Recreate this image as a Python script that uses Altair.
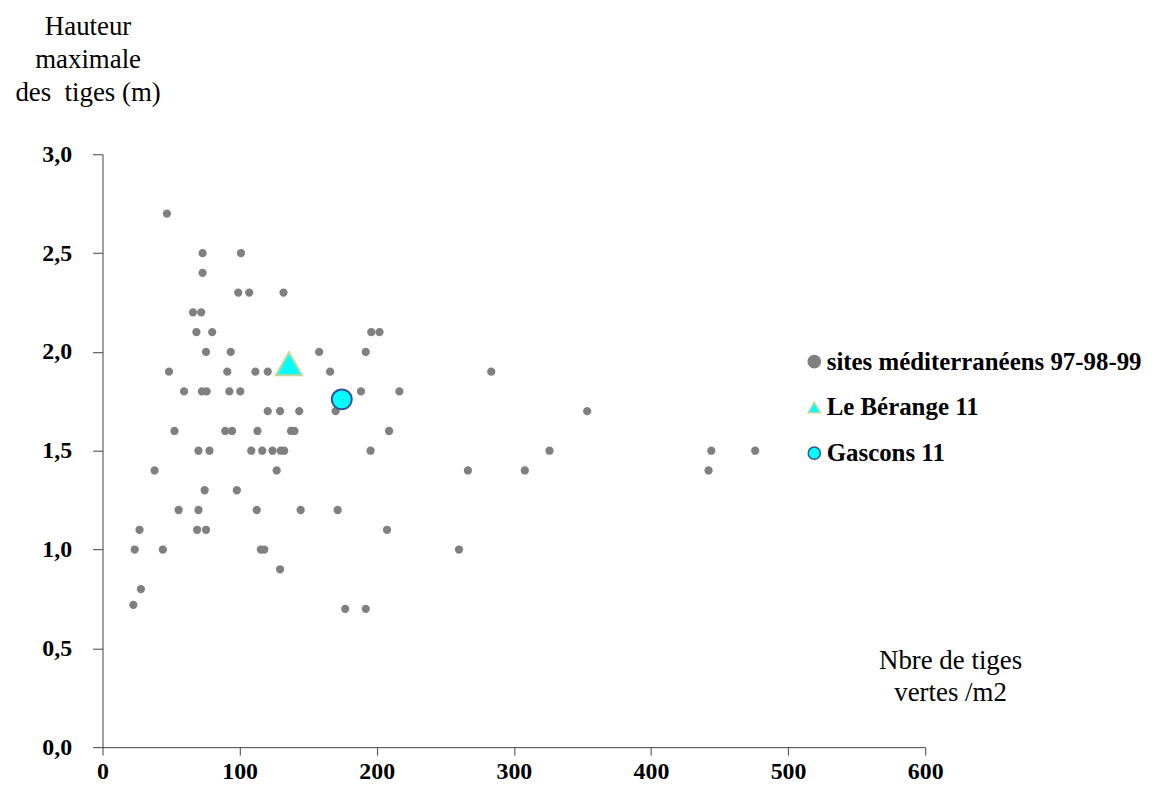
import altair as alt
import pandas as pd

series_names = ["sites méditerranéens 97-98-99", "Le Bérange 11", "Gascons 11"]

# Mediterranean sites (stem density /m2, max stem height m)
sites_x = [47,
           73, 101,
           73,
           99, 107, 132,
           66, 72,
           68.5, 80, 196, 202,
           75.5, 93.5, 158, 192,
           48.5, 91, 111.5, 120.5, 166, 283.5,
           59.5, 72.5, 76, 92.5, 100.5, 188.5, 216.5,
           120.5, 129.5, 143.5, 170, 353.5,
           52.5, 89.5, 94.5, 113, 137.5, 140, 209,
           70, 78, 108.5, 116.5, 124, 130, 132.5, 195.5, 326, 444, 476,
           38, 127, 266.5, 308, 442,
           74.5, 98,
           55.5, 70, 112.5, 144.5, 171.5,
           27, 69, 75.5, 207.5,
           23.5, 44, 115.5, 118, 260,
           129.5,
           28,
           22.5,
           177, 192]
sites_y = [2.7,
           2.5, 2.5,
           2.4,
           2.3, 2.3, 2.3,
           2.2, 2.2,
           2.1, 2.1, 2.1, 2.1,
           2.0, 2.0, 2.0, 2.0,
           1.9, 1.9, 1.9, 1.9, 1.9, 1.9,
           1.8, 1.8, 1.8, 1.8, 1.8, 1.8, 1.8,
           1.7, 1.7, 1.7, 1.7, 1.7,
           1.6, 1.6, 1.6, 1.6, 1.6, 1.6, 1.6,
           1.5, 1.5, 1.5, 1.5, 1.5, 1.5, 1.5, 1.5, 1.5, 1.5, 1.5,
           1.4, 1.4, 1.4, 1.4, 1.4,
           1.3, 1.3,
           1.2, 1.2, 1.2, 1.2, 1.2,
           1.1, 1.1, 1.1, 1.1,
           1.0, 1.0, 1.0, 1.0, 1.0,
           0.9,
           0.8,
           0.72,
           0.7, 0.7]

berange_x = [136]
berange_y = [1.94]
gascons_x = [174.5]
gascons_y = [1.76]

x_ticks = [0, 100, 200, 300, 400, 500, 600]
y_ticks = [0, 0.5, 1.0, 1.5, 2.0, 2.5, 3.0]

rows = []
for xv, yv in zip(sites_x, sites_y):
    rows.append({"n": xv, "h": yv, "series": series_names[0]})
for xv, yv in zip(berange_x, berange_y):
    rows.append({"n": xv, "h": yv, "series": series_names[1]})
for xv, yv in zip(gascons_x, gascons_y):
    rows.append({"n": xv, "h": yv, "series": series_names[2]})
df = pd.DataFrame(rows)

FONT = "Liberation Serif"

leg = alt.Legend(
    title=None,
    orient="none",
    legendX=703,
    legendY=196,
    labelFont=FONT,
    labelFontWeight="bold",
    labelFontSize=25,
    labelColor="black",
    labelLimit=500,
    labelOffset=0,
    rowPadding=20,
    symbolStrokeWidth=1.5,
    symbolSize=150,
)

size_expr = ("datum.series === '%s' ? 700 : (datum.series === '%s' ? 400 : 40)"
             % (series_names[1], series_names[2]))

chart = alt.Chart(df).transform_calculate(
    msize=size_expr
).mark_point(filled=True, strokeWidth=2, opacity=1).encode(
    x=alt.X("n:Q",
            scale=alt.Scale(domain=[0, 600], nice=False),
            axis=alt.Axis(values=x_ticks, format="d", tickSize=8, labelPadding=5,
                          labelFlush=False, labelOverlap=False,
                          title=["Nbre de tiges", "vertes /m2"],
                          titleX=852, titleY=-79, titleAlign="center",
                          titleBaseline="alphabetic", titleLineHeight=32, titleAngle=0)),
    y=alt.Y("h:Q",
            scale=alt.Scale(domain=[0, 3], nice=False),
            axis=alt.Axis(values=y_ticks, tickSize=10, labelPadding=21,
                          labelExpr="replace(format(datum.value, '.1f'), '.', ',')",
                          labelOverlap=False, labelFlush=False,
                          title=["Hauteur", "maximale", "des\u00a0 tiges (m)"],
                          titleX=-15, titleY=-120, titleAlign="center",
                          titleBaseline="alphabetic", titleLineHeight=33, titleAngle=0)),
    fill=alt.Fill("series:N", scale=alt.Scale(domain=series_names,
                  range=["#808080", "#00FFFF", "#00FFFF"]), legend=leg),
    stroke=alt.Stroke("series:N", scale=alt.Scale(domain=series_names,
                      range=["#808080", "#c4d79b", "#2f5597"]), legend=leg),
    shape=alt.Shape("series:N", scale=alt.Scale(domain=series_names,
                    range=["circle", "triangle-up", "circle"]), legend=leg),
    size=alt.Size("msize:Q", scale=None, legend=None),
).properties(
    width=827,
    height=596,
    autosize=alt.AutoSizeParams(type="none"),
    padding={"left": 95, "top": 145, "right": 230, "bottom": 36},
).configure_view(
    stroke=None
).configure_axis(
    grid=False,
    labelFont=FONT,
    labelFontWeight="bold",
    labelFontSize=24,
    labelColor="black",
    domainColor="#404040",
    tickColor="#404040",
    domainWidth=1,
    tickWidth=1,
    titleFont=FONT,
    titleFontWeight="normal",
    titleFontSize=27,
    titleColor="black",
)

chart.save("out.html", embed_options={"renderer": "svg", "actions": False})
